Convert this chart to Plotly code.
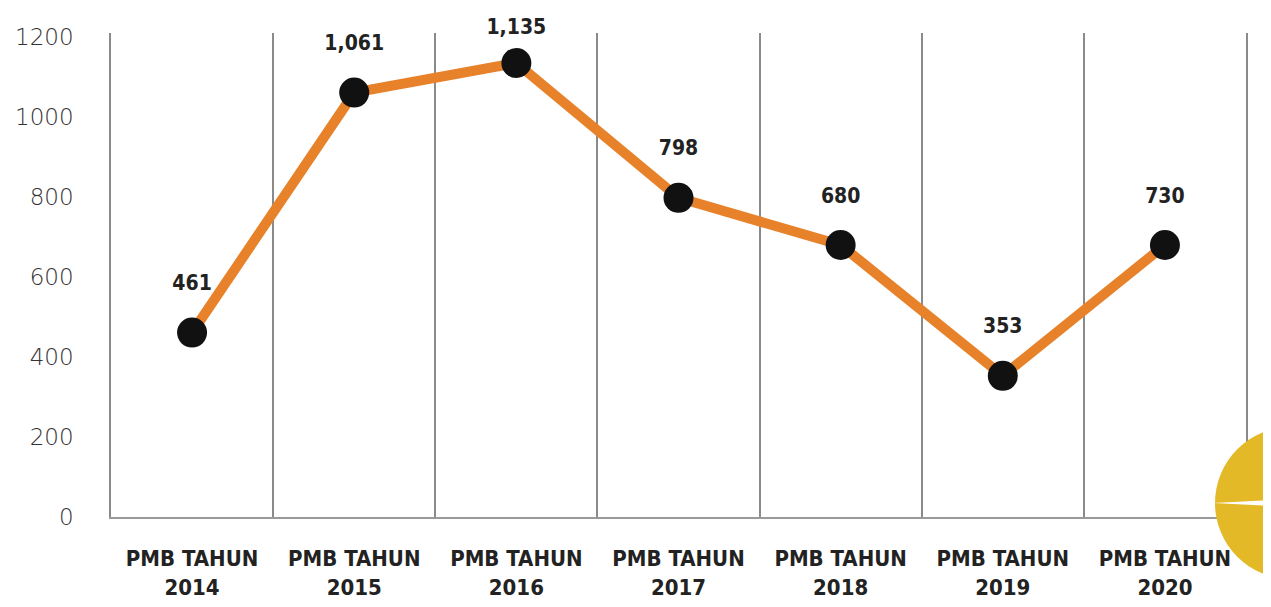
import plotly.graph_objects as go

categories = ["PMB TAHUN<br>2014", "PMB TAHUN<br>2015", "PMB TAHUN<br>2016", "PMB TAHUN<br>2017",
              "PMB TAHUN<br>2018", "PMB TAHUN<br>2019", "PMB TAHUN<br>2020"]
values = [461, 1061, 1135, 798, 680, 353, 680]
labels = ["461", "1,061", "1,135", "798", "680", "353", "730"]
y_ticks = [0, 200, 400, 600, 800, 1000, 1200]

idx = list(range(len(categories)))
bounds = [i - 0.5 for i in range(len(categories) + 1)]

bold_font = "DejaVu Sans Condensed, DejaVu Sans, sans-serif"
GRID = "#8a8a8a"

# page body has an 8px margin; plot area targeted at x 111..1246, y 33..517 in the window
OFF = 8
L, R, T, B = 111 - OFF, 1246 - OFF, 33 - OFF, 517 - OFF
PW, PH = R - L, B - T


def px(x):
    return (x - 111) / PW


def py(y):
    return (517 - y) / PH


# label offset: labels close to the top edge sit nearer to their point
label_gap = [58 if v < 1100 else 36 for v in values]

fig = go.Figure()
fig.add_trace(go.Scatter(
    x=idx, y=values, mode="lines+markers",
    line=dict(color="#E8822A", width=10),
    marker=dict(color="#111111", size=30, line=dict(width=0)),
    cliponaxis=False, hoverinfo="skip", showlegend=False,
))
# value labels (invisible larger markers set the label offset)
fig.add_trace(go.Scatter(
    x=idx, y=values, mode="markers+text",
    marker=dict(color="rgba(0,0,0,0)", size=label_gap, opacity=0, line=dict(width=0)),
    text=labels, textposition="top center",
    textfont=dict(family=bold_font, size=21, color="#222222", weight="bold"),
    cliponaxis=False, hoverinfo="skip", showlegend=False,
))

fig.update_layout(
    width=1271, height=607,
    margin=dict(l=L, r=1271 - R, t=T, b=607 - B, autoexpand=False),
    paper_bgcolor="white", plot_bgcolor="white",
    xaxis=dict(
        range=[-0.5, 6.5], tickmode="array", tickvals=idx, ticktext=categories,
        showgrid=False, zeroline=False, automargin=False,
        showline=True, linecolor="#9a9a9a", linewidth=2,
        tickfont=dict(family=bold_font, size=22, color="#222222", weight="bold"),
        ticklabelstandoff=21,
        minor=dict(tickmode="array", tickvals=bounds, showgrid=True,
                   gridcolor=GRID, gridwidth=1.5, ticks=""),
    ),
    yaxis=dict(
        range=[0, 1210], tickmode="array", tickvals=y_ticks,
        showgrid=False, zeroline=False, automargin=False,
        showline=True, mirror=True, linecolor=GRID, linewidth=1.5,
        tickfont=dict(family="DejaVu Sans, sans-serif", size=23, color="#333333", weight=200),
        ticklabelstandoff=31,
    ),
    shapes=[
        dict(type="circle", xref="paper", yref="paper", layer="above",
             x0=px(1215), x1=px(1367), y0=py(579), y1=py(427),
             fillcolor="#E3B928", line=dict(width=0)),
        dict(type="path", xref="paper", yref="paper", layer="above",
             path="M %f %f L %f %f L %f %f Z" % (
                 px(1213), py(503), px(1290), py(499), px(1290), py(507)),
             fillcolor="white", line=dict(width=0)),
    ],
)

fig.write_html("out.html")
